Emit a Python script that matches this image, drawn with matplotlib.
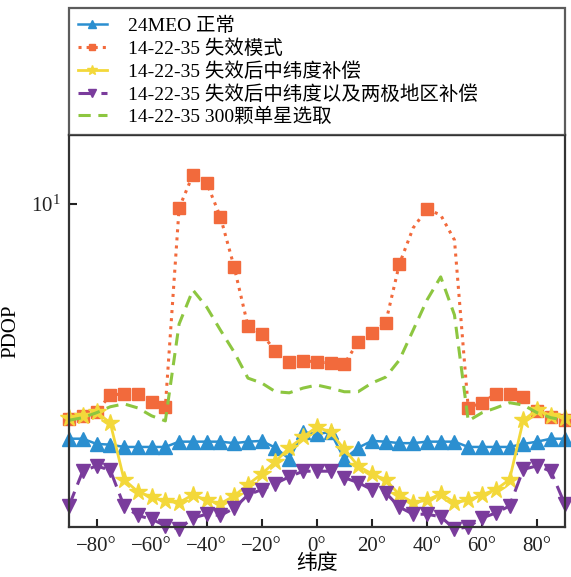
import numpy as np
import matplotlib
matplotlib.use("Agg")
import matplotlib.pyplot as plt
from matplotlib.ticker import FixedLocator, NullLocator

plt.rcParams['font.family'] = ['Liberation Serif', 'Noto Sans CJK SC']
plt.rcParams['mathtext.fontset'] = 'stix'
plt.rcParams['axes.unicode_minus'] = True

# --- data: PDOP versus latitude, sampled every 5 degrees ---
lat = np.arange(-90, 91, 5)

pdop_normal = [2.01, 2.01, 1.94, 1.93, 1.90, 1.90, 1.90, 1.90, 1.97, 1.97, 1.97, 1.97, 1.95,
               1.97, 1.98, 1.89, 1.75, 2.10, 2.08, 2.10, 1.75, 1.89, 1.98, 1.97, 1.95, 1.95,
               1.97, 1.97, 1.97, 1.90, 1.90, 1.90, 1.90, 1.94, 1.97, 2.01, 2.01]
pdop_failure = [2.30, 2.35, 2.41, 2.71, 2.73, 2.73, 2.58, 2.50, 9.72, 12.18, 11.53, 9.14, 6.49,
                4.34, 4.11, 3.66, 3.40, 3.42, 3.40, 3.37, 3.35, 3.89, 4.14, 4.43, 6.63, 8.48,
                9.65, 9.26, 7.81, 2.48, 2.57, 2.73, 2.73, 2.67, 2.43, 2.33, 2.28]
pdop_mid = [2.32, 2.35, 2.41, 2.24, 1.52, 1.40, 1.35, 1.31, 1.30, 1.37, 1.32, 1.29, 1.36,
            1.47, 1.58, 1.72, 1.89, 2.03, 2.18, 2.10, 1.87, 1.67, 1.58, 1.52, 1.37, 1.30,
            1.32, 1.38, 1.30, 1.32, 1.37, 1.42, 1.52, 2.28, 2.45, 2.35, 2.32]
pdop_mid_polar = [1.27, 1.61, 1.67, 1.62, 1.27, 1.19, 1.16, 1.11, 1.085, 1.17, 1.20, 1.19, 1.25,
                  1.37, 1.42, 1.48, 1.55, 1.61, 1.61, 1.61, 1.54, 1.49, 1.42, 1.39, 1.26, 1.20,
                  1.20, 1.18, 1.085, 1.10, 1.17, 1.21, 1.27, 1.63, 1.67, 1.61, 1.29]
pdop_300 = [2.28, 2.32, 2.40, 2.50, 2.55, 2.48, 2.35, 2.27, 4.40, 5.55, 4.94, 4.22, 3.63,
            3.04, 2.94, 2.77, 2.75, 2.84, 2.90, 2.84, 2.77, 2.77, 2.94, 3.06, 3.44, 4.22,
            5.18, 6.07, 4.68, 2.27, 2.40, 2.48, 2.57, 2.53, 2.40, 2.32, 2.28]

labels = ['24MEO 正常',
          '14-22-35 失效模式',
          '14-22-35 失效后中纬度补偿',
          '14-22-35 失效后中纬度以及两极地区补偿',
          '14-22-35 300颗单星选取']

xticks = [-80, -60, -40, -20, 0, 20, 40, 60, 80]
xticklabels = ['−80°', '−60°', '−40°', '−20°', '0°', '20°', '40°', '60°', '80°']

# square markers are not shown at 35, 45 and 50 degrees
failure_marks = [i for i, v in enumerate(lat) if v not in (35, 45, 50)]

fig = plt.figure(figsize=(5.71, 5.77), dpi=100)
ax = fig.add_axes([0.1208, 0.0867, 0.868, 0.6794])

ax.plot(lat, pdop_normal, color='#2b8fd0', ls='-', lw=1.8, marker='^', ms=10.5,
        mec='#2b8fd0', mfc='#2b8fd0', label=labels[0], clip_on=False)
ax.plot(lat, pdop_failure, color='#f26a3c', ls=':', lw=2.2, marker='s', ms=8,
        mec='#f26a3c', mfc='#f26a3c', markevery=failure_marks, label=labels[1], clip_on=False)
ax.plot(lat, pdop_mid, color='#f3d83a', ls='-', lw=2.0, marker='*', ms=13,
        mec='#f3d83a', mfc='#f3d83a', label=labels[2], clip_on=False)
ax.plot(lat, pdop_mid_polar, color='#7a3c9c', ls=(0, (5, 2.5)), lw=2.2, marker='v', ms=10.5,
        mec='#7a3c9c', mfc='#7a3c9c', label=labels[3], clip_on=False)
ax.plot(lat, pdop_300, color='#8dc640', ls=(0, (4, 2.5)), lw=2.2, label=labels[4], clip_on=False)

ax.set_yscale('log')
ax.set_xlim(-90, 90)
ax.set_ylim(1.1, 16)
ax.yaxis.set_major_locator(FixedLocator([10]))
ax.yaxis.set_minor_locator(NullLocator())
ax.set_xticks(xticks)
ax.set_xticklabels(xticklabels)
ax.tick_params(direction='in', length=6, width=1.5, labelsize=15, colors='#222222')
ax.tick_params(axis='y', pad=6)
ax.tick_params(axis='x', pad=7)

ax.set_xlabel('纬度', fontsize=15, labelpad=-1)
ax.set_ylabel('PDOP', fontsize=15, labelpad=8)

for sp in ax.spines.values():
    sp.set_linewidth(1.6)
    sp.set_color('#333333')

leg = ax.legend(loc='lower left', bbox_to_anchor=(0, 1, 1, 0.33), mode='expand',
                borderaxespad=0, fancybox=False, frameon=True, fontsize=14,
                handlelength=1.5, handletextpad=1.1, labelspacing=0.22,
                borderpad=0.45, markerscale=0.6)
leg.get_frame().set_edgecolor('#333333')
leg.get_frame().set_linewidth(1.6)

fig.savefig('out.png', dpi=100)
